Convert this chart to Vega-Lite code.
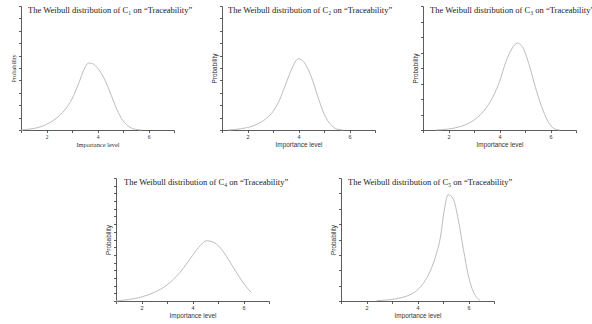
{
  "$schema": "https://vega.github.io/schema/vega-lite/v6.json",
  "background": "white",
  "padding": {"left": 10, "top": 5, "right": 0, "bottom": 0},
  "datasets": {
    "curves": [
      {"panel": 1, "level": 1.0, "prob": 0.0},
      {"panel": 1, "level": 1.25, "prob": 0.005},
      {"panel": 1, "level": 1.5, "prob": 0.012},
      {"panel": 1, "level": 1.75, "prob": 0.025},
      {"panel": 1, "level": 2.0, "prob": 0.045},
      {"panel": 1, "level": 2.25, "prob": 0.075},
      {"panel": 1, "level": 2.5, "prob": 0.115},
      {"panel": 1, "level": 2.75, "prob": 0.17},
      {"panel": 1, "level": 3.0, "prob": 0.25},
      {"panel": 1, "level": 3.25, "prob": 0.37},
      {"panel": 1, "level": 3.5, "prob": 0.5},
      {"panel": 1, "level": 3.65, "prob": 0.54},
      {"panel": 1, "level": 3.8, "prob": 0.535},
      {"panel": 1, "level": 4.0, "prob": 0.5},
      {"panel": 1, "level": 4.25, "prob": 0.42},
      {"panel": 1, "level": 4.5, "prob": 0.3},
      {"panel": 1, "level": 4.75, "prob": 0.17},
      {"panel": 1, "level": 5.0, "prob": 0.075},
      {"panel": 1, "level": 5.25, "prob": 0.025},
      {"panel": 1, "level": 5.5, "prob": 0.005},
      {"panel": 1, "level": 5.75, "prob": 0.0},
      {"panel": 2, "level": 1.25, "prob": 0.0},
      {"panel": 2, "level": 1.5, "prob": 0.004},
      {"panel": 2, "level": 1.75, "prob": 0.01},
      {"panel": 2, "level": 2.0, "prob": 0.02},
      {"panel": 2, "level": 2.25, "prob": 0.035},
      {"panel": 2, "level": 2.5, "prob": 0.06},
      {"panel": 2, "level": 2.75, "prob": 0.095},
      {"panel": 2, "level": 3.0, "prob": 0.15},
      {"panel": 2, "level": 3.25, "prob": 0.24},
      {"panel": 2, "level": 3.5, "prob": 0.37},
      {"panel": 2, "level": 3.75, "prob": 0.5},
      {"panel": 2, "level": 4.0, "prob": 0.575},
      {"panel": 2, "level": 4.2, "prob": 0.55},
      {"panel": 2, "level": 4.5, "prob": 0.43},
      {"panel": 2, "level": 4.75, "prob": 0.275},
      {"panel": 2, "level": 5.0, "prob": 0.13},
      {"panel": 2, "level": 5.25, "prob": 0.047},
      {"panel": 2, "level": 5.5, "prob": 0.008},
      {"panel": 2, "level": 5.75, "prob": 0.0},
      {"panel": 3, "level": 1.5, "prob": 0.0},
      {"panel": 3, "level": 2.0, "prob": 0.008},
      {"panel": 3, "level": 2.5, "prob": 0.03},
      {"panel": 3, "level": 2.75, "prob": 0.05},
      {"panel": 3, "level": 3.0, "prob": 0.08},
      {"panel": 3, "level": 3.25, "prob": 0.123},
      {"panel": 3, "level": 3.5, "prob": 0.185},
      {"panel": 3, "level": 3.75, "prob": 0.27},
      {"panel": 3, "level": 4.0, "prob": 0.39},
      {"panel": 3, "level": 4.25, "prob": 0.55},
      {"panel": 3, "level": 4.5, "prob": 0.66},
      {"panel": 3, "level": 4.7, "prob": 0.7},
      {"panel": 3, "level": 4.9, "prob": 0.67},
      {"panel": 3, "level": 5.15, "prob": 0.535},
      {"panel": 3, "level": 5.4, "prob": 0.35},
      {"panel": 3, "level": 5.65, "prob": 0.19},
      {"panel": 3, "level": 5.9, "prob": 0.07},
      {"panel": 3, "level": 6.15, "prob": 0.01},
      {"panel": 3, "level": 6.35, "prob": 0.0},
      {"panel": 4, "level": 1.0, "prob": 0.0},
      {"panel": 4, "level": 1.5, "prob": 0.012},
      {"panel": 4, "level": 2.0, "prob": 0.033},
      {"panel": 4, "level": 2.5, "prob": 0.07},
      {"panel": 4, "level": 3.0, "prob": 0.13},
      {"panel": 4, "level": 3.5, "prob": 0.23},
      {"panel": 4, "level": 4.0, "prob": 0.37},
      {"panel": 4, "level": 4.3, "prob": 0.45},
      {"panel": 4, "level": 4.55, "prob": 0.49},
      {"panel": 4, "level": 4.8, "prob": 0.48},
      {"panel": 4, "level": 5.1, "prob": 0.43},
      {"panel": 4, "level": 5.4, "prob": 0.34},
      {"panel": 4, "level": 5.7, "prob": 0.24},
      {"panel": 4, "level": 6.0, "prob": 0.145},
      {"panel": 4, "level": 6.3, "prob": 0.07},
      {"panel": 5, "level": 2.4, "prob": 0.003},
      {"panel": 5, "level": 3.0, "prob": 0.013},
      {"panel": 5, "level": 3.5, "prob": 0.035},
      {"panel": 5, "level": 3.75, "prob": 0.055},
      {"panel": 5, "level": 4.0, "prob": 0.09},
      {"panel": 5, "level": 4.25, "prob": 0.15},
      {"panel": 5, "level": 4.5, "prob": 0.245},
      {"panel": 5, "level": 4.75, "prob": 0.39},
      {"panel": 5, "level": 4.9, "prob": 0.52},
      {"panel": 5, "level": 5.05, "prob": 0.74},
      {"panel": 5, "level": 5.2, "prob": 0.865},
      {"panel": 5, "level": 5.4, "prob": 0.83},
      {"panel": 5, "level": 5.6, "prob": 0.66},
      {"panel": 5, "level": 5.8, "prob": 0.42},
      {"panel": 5, "level": 6.0, "prob": 0.2},
      {"panel": 5, "level": 6.2, "prob": 0.07},
      {"panel": 5, "level": 6.45, "prob": 0.005}
    ],
    "blank": []
  },
  "spacing": 29,
  "vconcat": [
    {
      "bounds": "flush",
      "spacing": 48,
      "hconcat": [
        {
          "width": 153, "height": 124,
          "layer": [
            {
              "data": {"name": "curves"},
              "transform": [{"filter": "datum.panel == 1"}],
              "mark": {"type": "line", "interpolate": "monotone", "color": "#bdbdbd", "strokeWidth": 1},
              "encoding": {
                "x": {"field": "level", "type": "quantitative", "scale": {"domain": [1, 7], "nice": false},
                      "axis": {"title": "Importance level", "values": [1, 2, 3, 4, 5, 6, 7], "labelExpr": "datum.value % 2 == 0 ? datum.label : ''", "titleFont": "Liberation Serif", "labelFont": "Liberation Serif"}},
                "y": {"field": "prob", "type": "quantitative", "scale": {"domain": [0, 1], "nice": false},
                      "axis": {"title": "Probability", "labels": false, "values": [0, 0.1, 0.2, 0.3, 0.4, 0.5, 0.6, 0.7, 0.8, 0.9, 1], "titleFont": "Liberation Serif"}}
              }
            },
            {
              "data": {"values": [{"label": "The Weibull distribution of C₁ on “Traceability”"}]},
              "mark": {"type": "text", "align": "left", "baseline": "alphabetic", "dx": 7, "dy": 7, "font": "Liberation Serif", "fontSize": 8.5, "color": "#222"},
              "encoding": {
                "x": {"datum": 1, "type": "quantitative", "scale": {"domain": [1, 7], "nice": false},
                      "axis": {"title": "Importance level", "values": [1, 2, 3, 4, 5, 6, 7], "labelExpr": "datum.value % 2 == 0 ? datum.label : ''", "titleFont": "Liberation Serif", "labelFont": "Liberation Serif"}},
                "y": {"datum": 1, "type": "quantitative", "scale": {"domain": [0, 1], "nice": false},
                      "axis": {"title": "Probability", "labels": false, "values": [0, 0.1, 0.2, 0.3, 0.4, 0.5, 0.6, 0.7, 0.8, 0.9, 1], "titleFont": "Liberation Serif"}},
                "text": {"field": "label"}
              }
            }
          ]
        },
        {
          "width": 153, "height": 124,
          "layer": [
            {
              "data": {"name": "curves"},
              "transform": [{"filter": "datum.panel == 2"}],
              "mark": {"type": "line", "interpolate": "monotone", "color": "#bdbdbd", "strokeWidth": 1},
              "encoding": {
                "x": {"field": "level", "type": "quantitative", "scale": {"domain": [1, 7], "nice": false},
                      "axis": {"title": "Importance level", "values": [1, 2, 3, 4, 5, 6, 7], "labelExpr": "datum.value % 2 == 0 ? datum.label : ''"}},
                "y": {"field": "prob", "type": "quantitative", "scale": {"domain": [0, 1], "nice": false},
                      "axis": {"title": "Probability", "labels": false, "values": [0, 0.1, 0.2, 0.3, 0.4, 0.5, 0.6, 0.7, 0.8, 0.9, 1]}}
              }
            },
            {
              "data": {"values": [{"label": "The Weibull distribution of C₂ on “Traceability”"}]},
              "mark": {"type": "text", "align": "left", "baseline": "alphabetic", "dx": 6, "dy": 7, "font": "Liberation Serif", "fontSize": 8.5, "color": "#222"},
              "encoding": {
                "x": {"datum": 1, "type": "quantitative", "scale": {"domain": [1, 7], "nice": false},
                      "axis": {"title": "Importance level", "values": [1, 2, 3, 4, 5, 6, 7], "labelExpr": "datum.value % 2 == 0 ? datum.label : ''"}},
                "y": {"datum": 1, "type": "quantitative", "scale": {"domain": [0, 1], "nice": false},
                      "axis": {"title": "Probability", "labels": false, "values": [0, 0.1, 0.2, 0.3, 0.4, 0.5, 0.6, 0.7, 0.8, 0.9, 1]}},
                "text": {"field": "label"}
              }
            }
          ]
        },
        {
          "width": 153, "height": 124,
          "layer": [
            {
              "data": {"name": "curves"},
              "transform": [{"filter": "datum.panel == 3"}],
              "mark": {"type": "line", "interpolate": "monotone", "color": "#bdbdbd", "strokeWidth": 1},
              "encoding": {
                "x": {"field": "level", "type": "quantitative", "scale": {"domain": [1, 7], "nice": false},
                      "axis": {"title": "Importance level", "values": [1, 2, 3, 4, 5, 6, 7], "labelExpr": "datum.value % 2 == 0 ? datum.label : ''"}},
                "y": {"field": "prob", "type": "quantitative", "scale": {"domain": [0, 1], "nice": false},
                      "axis": {"title": "Probability", "labels": false, "values": [0, 0.125, 0.25, 0.375, 0.5, 0.625, 0.75, 0.875, 1]}}
              }
            },
            {
              "data": {"values": [{"label": "The Weibull distribution of C₃ on “Traceability”"}]},
              "mark": {"type": "text", "align": "left", "baseline": "alphabetic", "dx": 7, "dy": 7, "font": "Liberation Serif", "fontSize": 8.5, "color": "#222"},
              "encoding": {
                "x": {"datum": 1, "type": "quantitative", "scale": {"domain": [1, 7], "nice": false},
                      "axis": {"title": "Importance level", "values": [1, 2, 3, 4, 5, 6, 7], "labelExpr": "datum.value % 2 == 0 ? datum.label : ''"}},
                "y": {"datum": 1, "type": "quantitative", "scale": {"domain": [0, 1], "nice": false},
                      "axis": {"title": "Probability", "labels": false, "values": [0, 0.125, 0.25, 0.375, 0.5, 0.625, 0.75, 0.875, 1]}},
                "text": {"field": "label"}
              }
            }
          ]
        }
      ]
    },
    {
      "bounds": "flush",
      "spacing": 72,
      "hconcat": [
        {
          "width": 23, "height": 123,
          "data": {"name": "blank"},
          "mark": {"type": "point", "opacity": 0},
          "encoding": {}
        },
        {
          "width": 153, "height": 123,
          "layer": [
            {
              "data": {"name": "curves"},
              "transform": [{"filter": "datum.panel == 4"}],
              "mark": {"type": "line", "interpolate": "monotone", "color": "#bdbdbd", "strokeWidth": 1},
              "encoding": {
                "x": {"field": "level", "type": "quantitative", "scale": {"domain": [1, 7], "nice": false},
                      "axis": {"title": "Importance level", "values": [1, 2, 3, 4, 5, 6, 7], "labelExpr": "datum.value % 2 == 0 ? datum.label : ''"}},
                "y": {"field": "prob", "type": "quantitative", "scale": {"domain": [0, 1], "nice": false},
                      "axis": {"title": "Probability", "labels": false, "values": [0, 0.0625, 0.125, 0.1875, 0.25, 0.3125, 0.375, 0.4375, 0.5, 0.5625, 0.625, 0.6875, 0.75, 0.8125, 0.875, 0.9375, 1]}}
              }
            },
            {
              "data": {"values": [{"label": "The Weibull distribution of C₄ on “Traceability”"}]},
              "mark": {"type": "text", "align": "left", "baseline": "alphabetic", "dx": 8, "dy": 7, "font": "Liberation Serif", "fontSize": 8.5, "color": "#222"},
              "encoding": {
                "x": {"datum": 1, "type": "quantitative", "scale": {"domain": [1, 7], "nice": false},
                      "axis": {"title": "Importance level", "values": [1, 2, 3, 4, 5, 6, 7], "labelExpr": "datum.value % 2 == 0 ? datum.label : ''"}},
                "y": {"datum": 1, "type": "quantitative", "scale": {"domain": [0, 1], "nice": false},
                      "axis": {"title": "Probability", "labels": false, "values": [0, 0.0625, 0.125, 0.1875, 0.25, 0.3125, 0.375, 0.4375, 0.5, 0.5625, 0.625, 0.6875, 0.75, 0.8125, 0.875, 0.9375, 1]}},
                "text": {"field": "label"}
              }
            }
          ]
        },
        {
          "width": 153, "height": 123,
          "layer": [
            {
              "data": {"name": "curves"},
              "transform": [{"filter": "datum.panel == 5"}],
              "mark": {"type": "line", "interpolate": "monotone", "color": "#bdbdbd", "strokeWidth": 1},
              "encoding": {
                "x": {"field": "level", "type": "quantitative", "scale": {"domain": [1, 7], "nice": false},
                      "axis": {"title": "Importance level", "values": [1, 2, 3, 4, 5, 6, 7], "labelExpr": "datum.value % 2 == 0 ? datum.label : ''"}},
                "y": {"field": "prob", "type": "quantitative", "scale": {"domain": [0, 1], "nice": false},
                      "axis": {"title": "Probability", "labels": false, "values": [0, 0.125, 0.25, 0.375, 0.5, 0.625, 0.75, 0.875, 1]}}
              }
            },
            {
              "data": {"values": [{"label": "The Weibull distribution of C₅ on “Traceability”"}]},
              "mark": {"type": "text", "align": "left", "baseline": "alphabetic", "dx": 7, "dy": 7, "font": "Liberation Serif", "fontSize": 8.5, "color": "#222"},
              "encoding": {
                "x": {"datum": 1, "type": "quantitative", "scale": {"domain": [1, 7], "nice": false},
                      "axis": {"title": "Importance level", "values": [1, 2, 3, 4, 5, 6, 7], "labelExpr": "datum.value % 2 == 0 ? datum.label : ''"}},
                "y": {"datum": 1, "type": "quantitative", "scale": {"domain": [0, 1], "nice": false},
                      "axis": {"title": "Probability", "labels": false, "values": [0, 0.125, 0.25, 0.375, 0.5, 0.625, 0.75, 0.875, 1]}},
                "text": {"field": "label"}
              }
            }
          ]
        }
      ]
    }
  ],
  "config": {
    "view": {"stroke": null},
    "axis": {
      "grid": false,
      "domainColor": "#333", "domainWidth": 0.8,
      "tickColor": "#333", "tickWidth": 0.8, "tickSize": 2.5,
      "labelFont": "Liberation Sans", "labelFontSize": 5.5, "labelColor": "#333", "labelPadding": 1.5,
      "titleFont": "Liberation Sans", "titleFontSize": 6.4, "titleFontWeight": "normal", "titleColor": "#333", "titlePadding": 1.5
    }
  }
}
